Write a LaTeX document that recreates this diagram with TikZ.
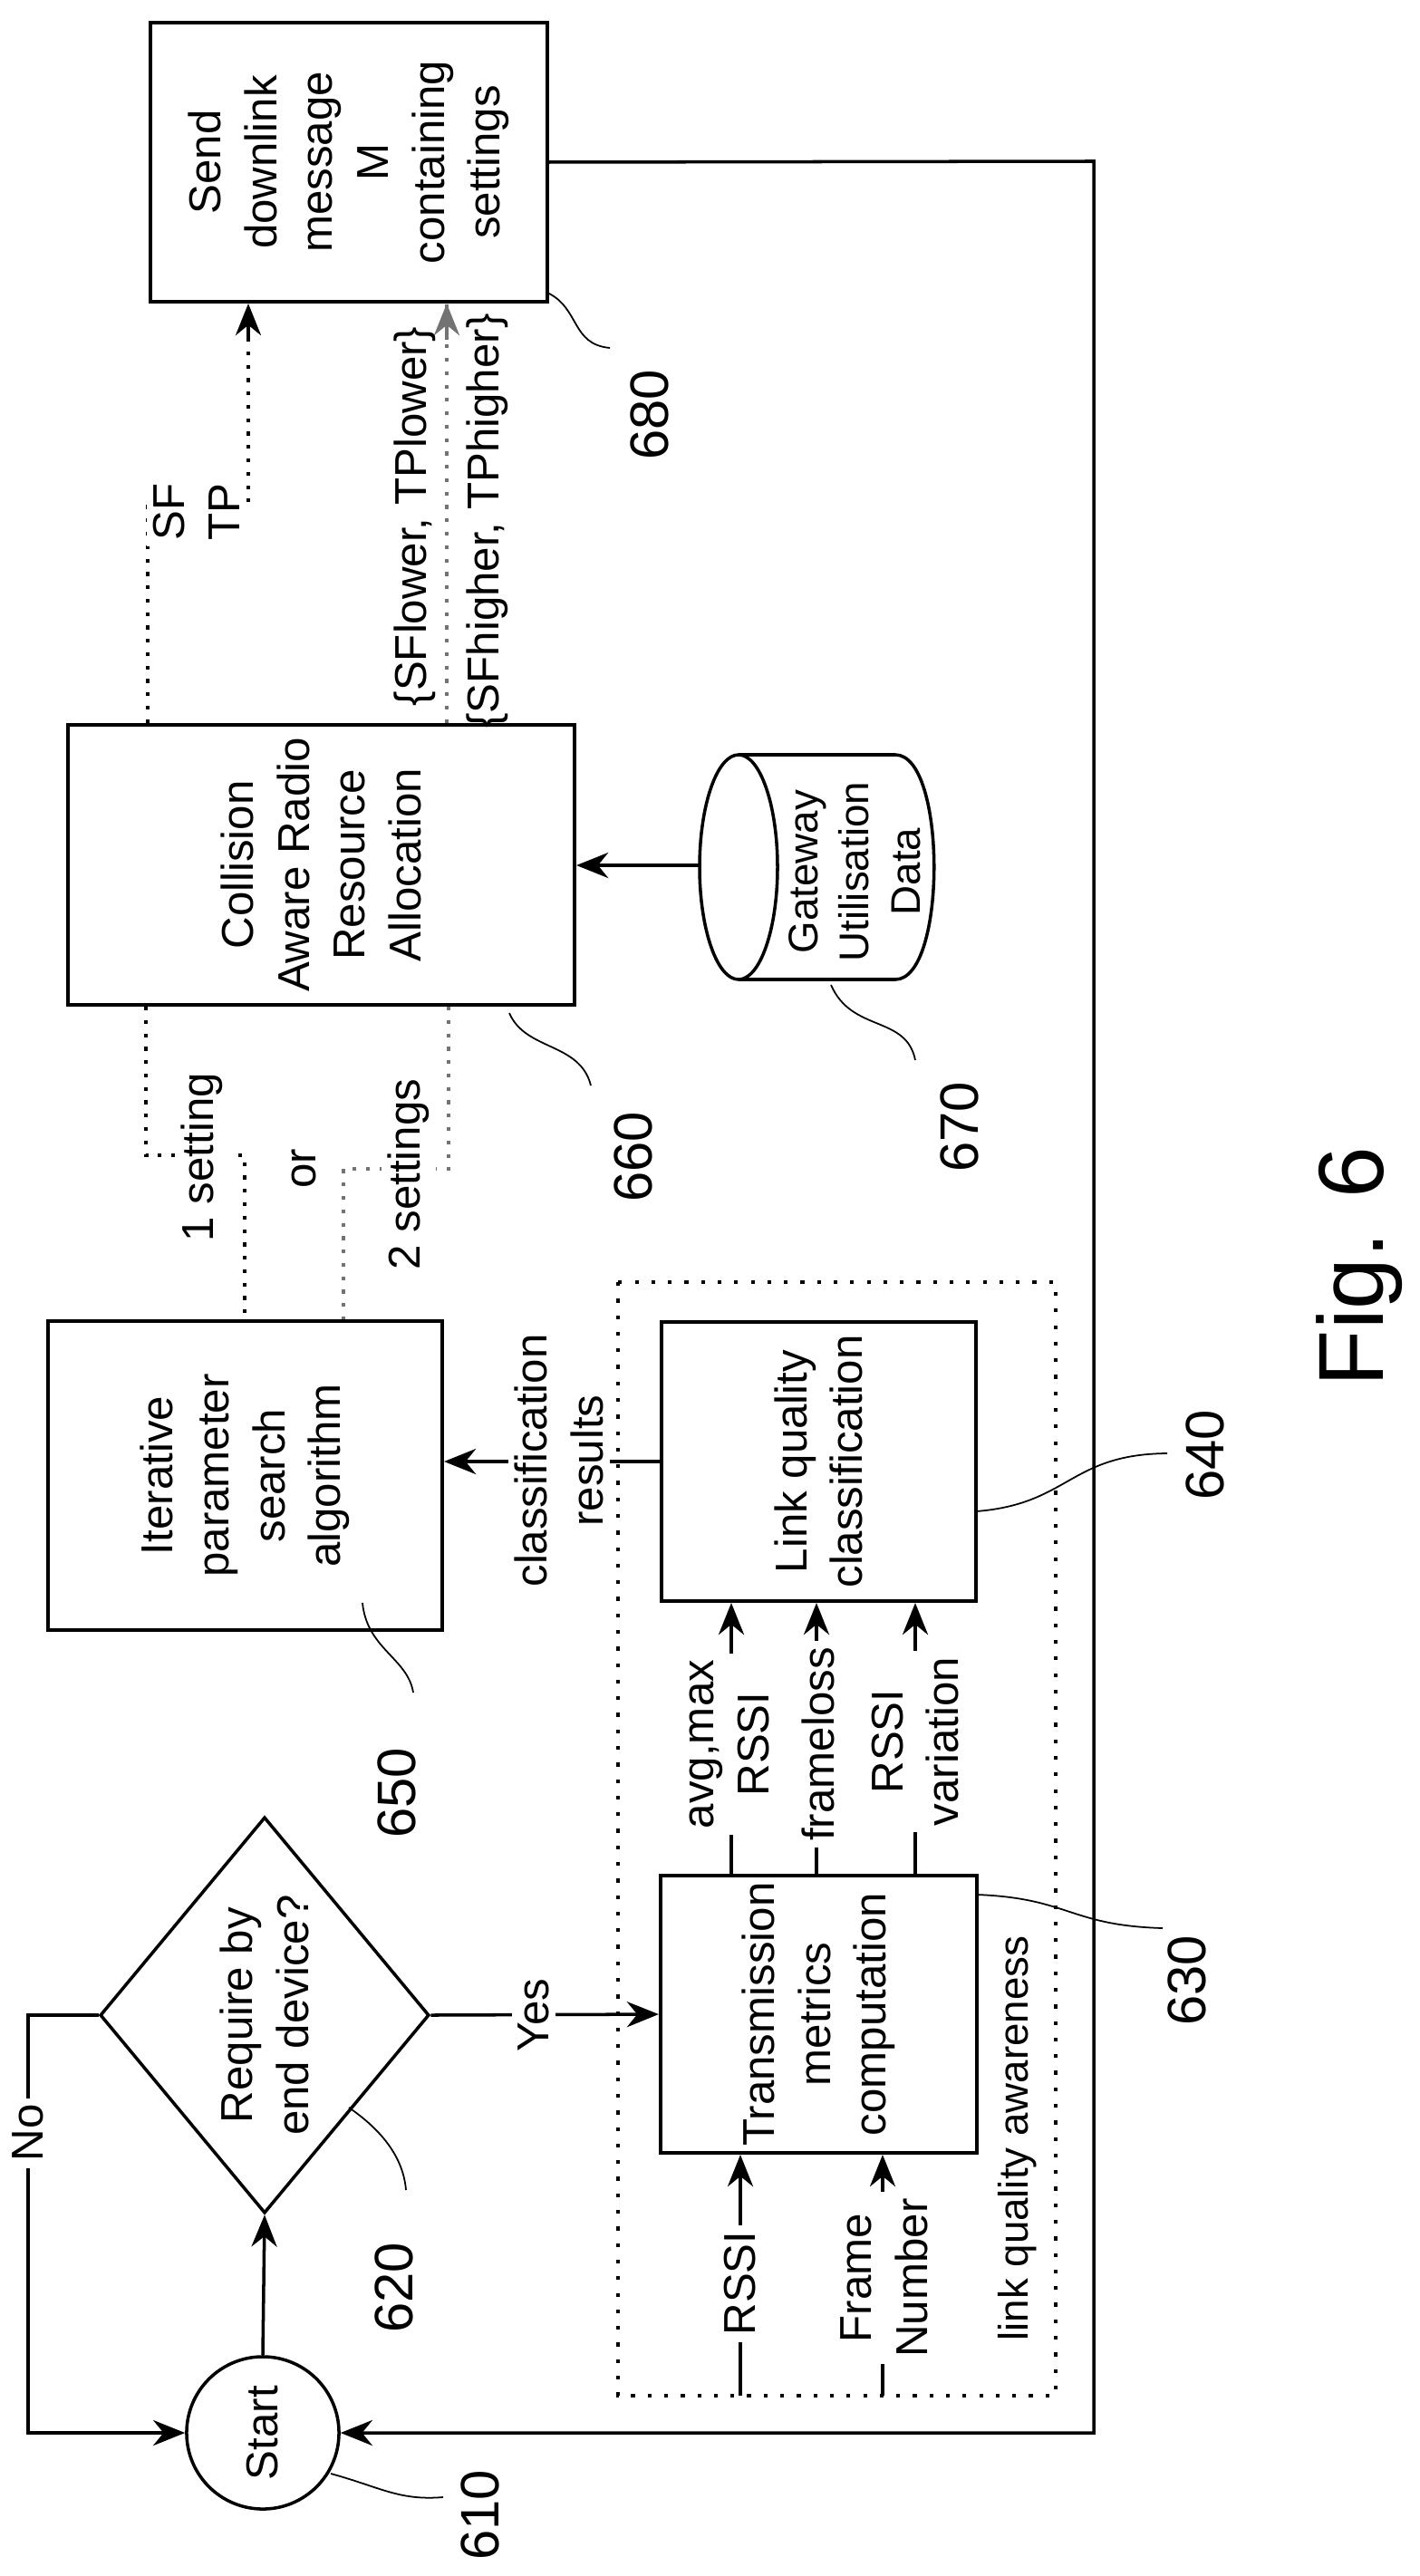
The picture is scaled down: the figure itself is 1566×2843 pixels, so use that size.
\documentclass[tikz,border=0pt]{standalone}
\usepackage{fontspec}
\setmainfont{Liberation Sans}
\usetikzlibrary{arrows.meta,shapes.geometric,calc}
\begin{document}
\begin{tikzpicture}[x=0.01cm,y=-0.01cm,
  every node/.style={rotate=90,align=center,inner sep=0pt,font=\fontsize{14}{17.5}\selectfont},
  box/.style={draw,line width=1.1pt},
  lbl/.style={fill=white,inner sep=2pt},
  num/.style={font=\fontsize{17}{20}\selectfont},
  conn/.style={line width=1pt},
  arr/.style={conn,-{Stealth[length=10pt,width=8pt]}},
  dot1/.style={line width=1.2pt,dash pattern=on 1.2pt off 3pt},
  dot2/.style={line width=1.2pt,dash pattern=on 1.2pt off 3pt,black!55},
  lead/.style={line width=0.5pt},
  lqa/.style={line width=1pt,dash pattern=on 1.2pt off 4pt}]
\useasboundingbox (0,0) rectangle (1566,2843);
% nodes
\node[box,minimum width=3.08cm,minimum height=4.38cm] (n680) at (385,179) {Send\\downlink\\message\\M\\containing\\settings};
\node[box,minimum width=3.09cm,minimum height=5.59cm] (n660) at (354.5,954.5) {Collision\\Aware Radio\\Resource\\Allocation};
\node[box,minimum width=3.41cm,minimum height=4.35cm] (n650) at (270.5,1628.5) {Iterative\\parameter\\search\\algorithm};
\node[box,minimum width=3.08cm,minimum height=3.47cm] (n640) at (903.5,1613) {Link quality\\classification};
\node[box,minimum width=3.06cm,minimum height=3.49cm] (n630) at (903.5,2223) {Transmission\\metrics\\computation};
\node[draw,diamond,line width=1pt,minimum width=4.37cm,minimum height=3.44cm] (n620) at (292,2224) {Require by\\end device?};
\node[draw,circle,line width=1pt,minimum size=1.68cm] (start) at (290,2685) {Start};
% cylinder
\draw[line width=1pt] (815,957) ellipse [x radius=43,y radius=124];
\draw[line width=1pt] (815,833) -- (988,833) .. controls (1045,833) and (1045,1081) .. (988,1081) -- (815,1081);
\node[font=\fontsize{13}{16}\selectfont] (n670) at (943,962) {Gateway\\Utilisation\\Data};
\coordinate (cylL) at (772,955);
% link quality awareness box
\draw[lqa] (682,1415) rectangle (1165,2644);
\node[font=\fontsize{13}{16}\selectfont] (lqt) at (1123,2360) {link quality awareness};
% coordinates
\coordinate (noC) at (31,2224);
\coordinate (noD) at (31,2685);
\coordinate (rA) at (1207,178);
\coordinate (rB) at (1207,2685);
\coordinate (a1) at (807,0); \coordinate (a2) at (901,0); \coordinate (a3) at (1010,0);
\coordinate (i1) at (817,2644); \coordinate (i2) at (974,2644);
\coordinate (s1a) at (161,1275); \coordinate (s1b) at (270,1275);
\coordinate (s2a) at (495,1290); \coordinate (s2b) at (379,1290);
\coordinate (t1a) at (163,559); \coordinate (t1b) at (274,559);
\coordinate (t2) at (493,0);
% connectors
\draw[arr] (start.east) -- (n620.west);
\draw[arr] (n620.north) -- (noC) -- (noD) -- (start.north);
\node[lbl] (lno) at (31,2354) {No};
\draw[arr] (n620.south) -- (n630.north);
\node[lbl] (lyes) at (589,2224) {Yes};
\draw[arr] (n680.south) -- (rA) -- (rB) -- (start.south);
\draw[arr] (n630.east -| a1) -- (n640.west -| a1);
\draw[arr] (n630.east -| a2) -- (n640.west -| a2);
\draw[arr] (n630.east -| a3) -- (n640.west -| a3);
\node[lbl] (l1) at (805,1925) {avg,max\\RSSI};
\node[lbl] (l2) at (903,1925) {frameloss};
\node[lbl] (l3) at (1010,1922) {RSSI\\variation};
\draw[arr] (i1) -- (n630.west -| i1);
\draw[arr] (i2) -- (n630.west -| i2);
\node[lbl] (l4) at (817,2520) {RSSI};
\node[lbl] (l5) at (976,2514) {Frame\\Number};
\draw[arr] (n640.north) -- (n640.north -| n650.south);
\node[lbl] (l6) at (617,1612) {classification\\results};
\draw[arr] (cylL) -- (cylL -| n660.south);
\draw[dot1] (n660.west -| s1a) -- (s1a) -- (s1b) -- (n650.east -| s1b);
\draw[dot2] (n660.west -| s2a) -- (s2a) -- (s2b) -- (n650.east -| s2b);
\node[lbl] (l7) at (223,1277) {1 setting};
\node[lbl] (l8) at (335,1290) {or};
\node[lbl] (l9) at (451,1296) {2 settings};
\draw[dot1] (n660.east -| t1a) -- (t1a) -- (t1b) -- (n680.west -| t1b);
\draw[-{Stealth[length=10pt,width=8pt]},line width=1pt] ($(n680.west -| t1b)+(0,40)$) -- (n680.west -| t1b);
\node[lbl] (l10) at (217,565) {SF\\TP};
\draw[dot2] (n660.east -| t2) -- (n680.west -| t2);
\draw[-{Stealth[length=10pt,width=8pt]},line width=1pt,black!55] ($(n680.west -| t2)+(0,40)$) -- (n680.west -| t2);
\node (l11) at (458,570) {\{SFlower, TPlower\}};
\node (l12) at (538,575) {\{SFhigher, TPhigher\}};
% reference numbers
\node[num] (r610) at (530,2776) {610};
\node[num] (r620) at (435,2525) {620};
\node[num] (r650) at (438,1979) {650};
\node[num] (r660) at (699,1277) {660};
\node[num] (r670) at (1059,1244) {670};
\node[num] (r680) at (717,458) {680};
\node[num] (r630) at (1310,2186) {630};
\node[num] (r640) at (1330,1606) {640};
\node[font=\fontsize{29}{32}\selectfont] (fig) at (1500,1398) {Fig. 6};
% leaders
\draw[lead] (365,2730) .. controls (420,2745) and (440,2760) .. (489,2756);
\draw[lead] (385,2326) .. controls (420,2350) and (445,2380) .. (448,2417);
\draw[lead] (400,1769) .. controls (405,1820) and (450,1830) .. (456,1868);
\draw[lead] (562,1118) .. controls (580,1160) and (640,1150) .. (652,1198);
\draw[lead] (917,1087) .. controls (940,1140) and (1000,1120) .. (1010,1170);
\draw[lead] (604,323) .. controls (640,340) and (630,380) .. (673,384);
\draw[lead] (1078,2091) .. controls (1180,2095) and (1180,2125) .. (1283,2128);
\draw[lead] (1077,1668) .. controls (1180,1660) and (1180,1605) .. (1288,1604);
\end{tikzpicture}
\end{document}
